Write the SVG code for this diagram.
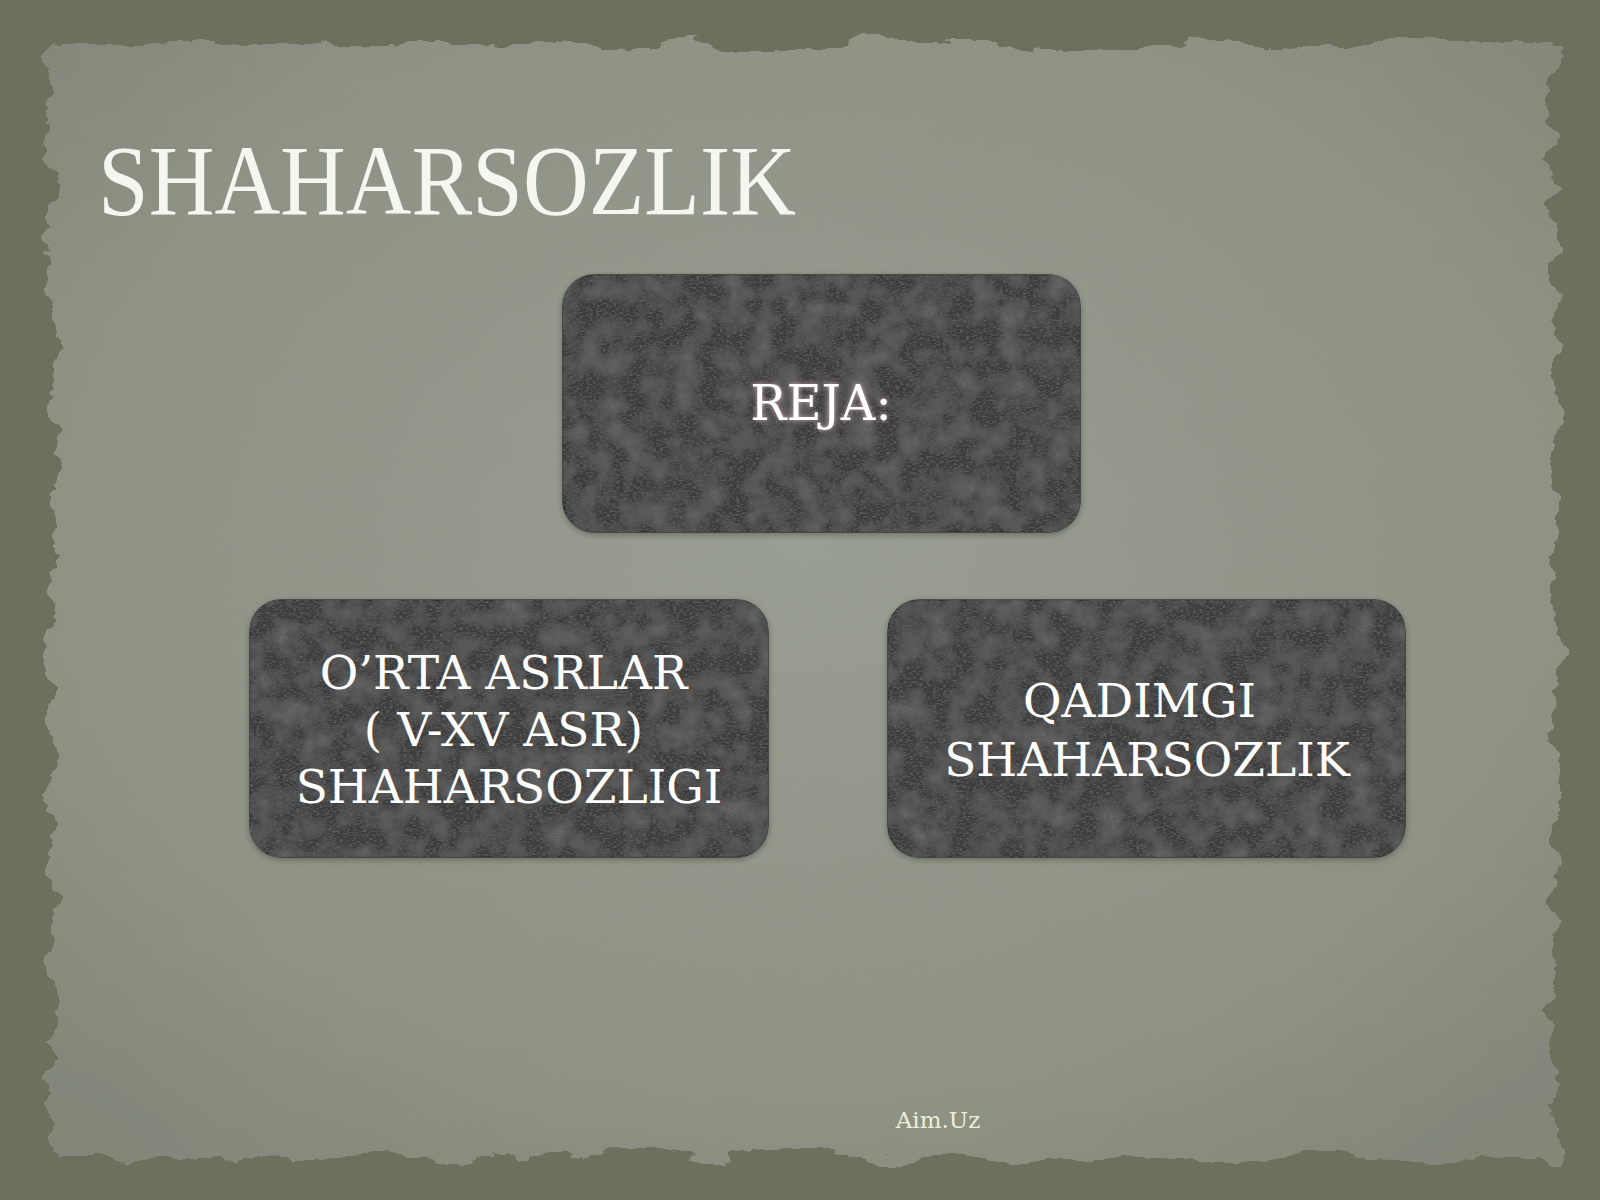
<svg xmlns="http://www.w3.org/2000/svg" width="1600" height="1200" viewBox="0 0 1600 1200">
  <defs>
    <style>
      .box { fill: #3d3d3d; stroke: #343434; stroke-width: 1.5; }
      .lbl { font-family: "DejaVu Serif", "Liberation Serif", serif; fill: #ffffff; text-anchor: middle; }
    </style>
    <radialGradient id="paperGrad" cx="0.5" cy="0.45" r="0.7">
      <stop offset="0" stop-color="#999e92"/>
      <stop offset="0.7" stop-color="#8e9386"/>
      <stop offset="1" stop-color="#82877a"/>
    </radialGradient>
    <filter id="torn" x="-5%" y="-5%" width="110%" height="110%">
      <feTurbulence type="fractalNoise" baseFrequency="0.012 0.03" numOctaves="5" seed="7" result="n"/>
      <feDisplacementMap in="SourceGraphic" in2="n" scale="40" xChannelSelector="R" yChannelSelector="G"/>
    </filter>
    <filter id="grain" x="0" y="0" width="100%" height="100%">
      <feTurbulence type="fractalNoise" baseFrequency="0.04" numOctaves="3" seed="11" result="m"/>
      <feColorMatrix in="m" type="matrix" values="0 0 0 0 0.36  0 0 0 0 0.36  0 0 0 0 0.36  0 0 0 -0.6 0.38" result="mot"/>
      <feComposite in="mot" in2="SourceGraphic" operator="in" result="mot2"/>
      <feTurbulence type="fractalNoise" baseFrequency="0.3 0.55" numOctaves="2" seed="5" result="n"/>
      <feColorMatrix in="n" type="matrix" values="0 0 0 0 0.1  0 0 0 0 0.1  0 0 0 0 0.1  0 0 0 -4 2.15" result="specks"/>
      <feComposite in="specks" in2="SourceGraphic" operator="in" result="s2"/>
      <feMerge><feMergeNode in="SourceGraphic"/><feMergeNode in="mot2"/><feMergeNode in="s2"/></feMerge>
    </filter>
    <filter id="shadow" x="-5%" y="-5%" width="110%" height="115%">
      <feGaussianBlur in="SourceAlpha" stdDeviation="3"/>
      <feOffset dx="0" dy="2" result="b"/>
      <feFlood flood-color="#000" flood-opacity="0.3"/>
      <feComposite in2="b" operator="in" result="sh"/>
      <feMerge><feMergeNode in="sh"/><feMergeNode in="SourceGraphic"/></feMerge>
    </filter>
    <filter id="glow" x="-20%" y="-40%" width="140%" height="180%">
      <feFlood flood-color="#f0c0d8" flood-opacity="0.85"/>
      <feComposite operator="in" in2="SourceAlpha" result="x"/>
      <feGaussianBlur in="x" stdDeviation="2.5" result="g"/>
      <feMerge><feMergeNode in="g"/><feMergeNode in="SourceGraphic"/></feMerge>
    </filter>
  </defs>

  <!-- background -->
  <rect x="0" y="0" width="1600" height="1200" fill="#6b715d"/>
  <rect x="52" y="44" width="1502" height="1114" fill="url(#paperGrad)" filter="url(#torn)"/>

  <!-- title -->
  <text x="98" y="214" font-family="'Liberation Serif', 'DejaVu Serif', serif" font-size="100" fill="#f6f6f0" textLength="698" lengthAdjust="spacingAndGlyphs">SHAHARSOZLIK</text>

  <g id="connectors"></g>

  <g id="node-reja">
    <rect class="box" x="563" y="275" width="517" height="257" rx="32" filter="url(#shadow)"/>
    <rect class="box" x="563" y="275" width="517" height="257" rx="32" filter="url(#grain)" stroke="none"/>
    <text class="lbl" x="821" y="420" font-size="48" filter="url(#glow)">REJA:</text>
  </g>

  <g id="node-orta">
    <rect class="box" x="250" y="600" width="518" height="257" rx="32" filter="url(#shadow)"/>
    <rect class="box" x="250" y="600" width="518" height="257" rx="32" filter="url(#grain)" stroke="none"/>
    <text class="lbl" font-size="47">
      <tspan x="511" y="689">O’RTA ASRLAR</tspan>
      <tspan x="511" y="746">( V-XV ASR)</tspan>
      <tspan x="509" y="803">SHAHARSOZLIGI</tspan>
    </text>
  </g>

  <g id="node-qadimgi">
    <rect class="box" x="888" y="600" width="517" height="257" rx="32" filter="url(#shadow)"/>
    <rect class="box" x="888" y="600" width="517" height="257" rx="32" filter="url(#grain)" stroke="none"/>
    <text class="lbl" font-size="47">
      <tspan x="1147" y="717">QADIMGI</tspan>
      <tspan x="1147" y="776">SHAHARSOZLIK</tspan>
    </text>
  </g>

  <text x="938" y="1128" font-family="'DejaVu Serif', serif" font-size="23" fill="#eeeed8" text-anchor="middle">Aim.Uz</text>
</svg>
